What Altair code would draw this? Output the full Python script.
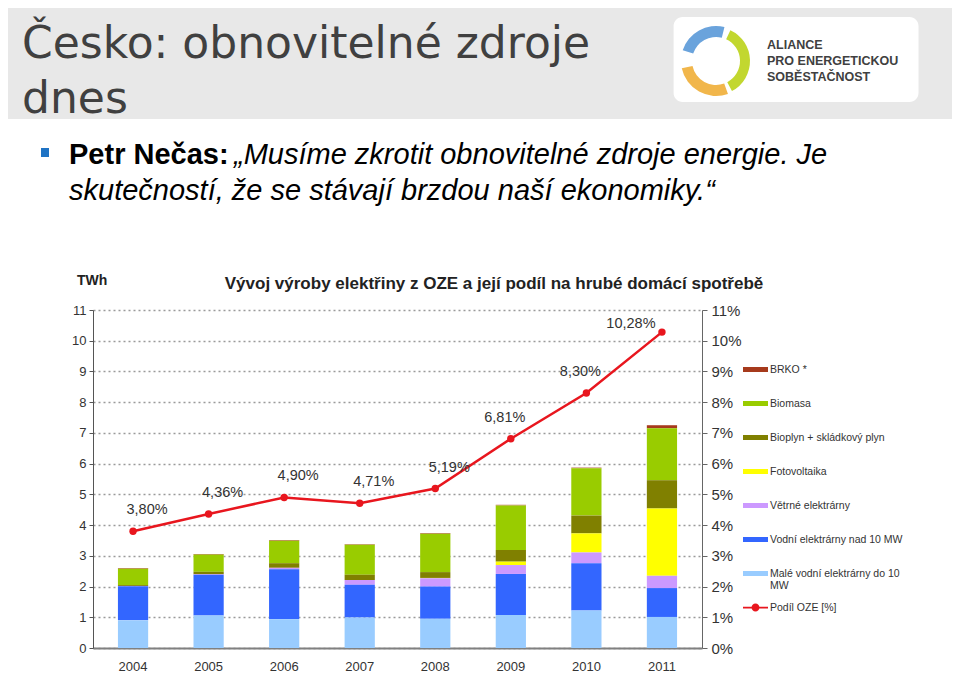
import altair as alt
import pandas as pd

FONT = "Liberation Sans"
RED = "#e8161e"

years = ["2004", "2005", "2006", "2007", "2008", "2009", "2010", "2011"]
sources = ["BRKO *", "Biomasa", "Bioplyn + skládkový plyn", "Fotovoltaika",
           "Větrné elektrárny", "Vodní elektrárny nad 10 MW",
           "Malé vodní elektrárny do 10 MW"]
colors = ["#a63a1c", "#99cc00", "#808000", "#ffff00", "#cc99ff", "#3366ff", "#99ccff"]

brko = [0.02, 0.02, 0.02, 0.02, 0.02, 0.02, 0.02, 0.10]
biomasa = [0.53, 0.56, 0.73, 0.98, 1.25, 1.45, 1.54, 1.69]
bioplyn = [0.03, 0.08, 0.15, 0.17, 0.19, 0.38, 0.58, 0.92]
fotovoltaika = [0.00, 0.00, 0.00, 0.00, 0.01, 0.11, 0.62, 2.19]
vetrne = [0.01, 0.02, 0.05, 0.15, 0.27, 0.29, 0.35, 0.40]
vodni_nad10 = [1.11, 1.32, 1.62, 1.07, 1.05, 1.34, 1.54, 0.94]
male_vodni = [0.90, 1.06, 0.94, 0.99, 0.95, 1.07, 1.22, 1.01]
podil = [3.80, 4.36, 4.90, 4.71, 5.19, 6.81, 8.30, 10.28]
share_name = "Podíl OZE [%]"
y_ticks = list(range(0, 12))

series = [brko, biomasa, bioplyn, fotovoltaika, vetrne, vodni_nad10, male_vodni]
rows = []
for si, (name, vals) in enumerate(zip(sources, series)):
    for yr, v in zip(years, vals):
        rows.append({"rok": yr, "zdroj": name, "twh": v, "poradi": len(sources) - 1 - si})
bars_df = pd.DataFrame(rows)
line_df = pd.DataFrame({"rok": years, "podil": podil, "serie": [share_name] * len(years)})

x_enc = alt.X("rok:N", title=None,
              scale=alt.Scale(paddingInner=0.6, paddingOuter=0.33),
              axis=alt.Axis(labelAngle=0, ticks=False, domainColor="#808080", domainWidth=2,
                            labelPadding=12, labelFontSize=13, labelColor="#333333",
                            labelFont=FONT))

bars = alt.Chart(bars_df).mark_bar().encode(
    x=x_enc,
    y=alt.Y("twh:Q", stack="zero", scale=alt.Scale(domain=[0, 11], nice=False),
            axis=alt.Axis(values=y_ticks, title=None, grid=True, gridDash=[2, 3],
                          gridColor="#9a9a9a", gridWidth=1.5, domainColor="#555555",
                          tickColor="#555555", tickSize=4, labelFontSize=13,
                          labelColor="#333333", labelPadding=3, labelFont=FONT,
                          labelOverlap=False)),
    color=alt.Color("zdroj:N", scale=alt.Scale(domain=sources, range=colors),
                    legend=alt.Legend(title=None, orient="none", legendX=650, legendY=47,
                                      symbolType="M-1,-0.2H1V0.2H-1Z", symbolSize=625,
                                      symbolStrokeWidth=0, labelFont=FONT, labelFontSize=10.5,
                                      labelColor="#333333", rowPadding=16, labelOffset=2,
                                      labelLimit=220, padding=0,
                                      labelExpr="datum.label == 'Malé vodní elektrárny do 10 MW' ? ['Malé vodní elektrárny do 10', 'MW'] : datum.label")),
    order=alt.Order("poradi:Q", sort="ascending"),
)

pct_axis = alt.Axis(orient="right", values=y_ticks, labelExpr="datum.value + '%'",
                    title=None, grid=False, domainColor="#666666", tickColor="#666666",
                    tickSize=5, labelFontSize=15, labelColor="#333333", labelPadding=4,
                    labelFont=FONT, labelOverlap=False)
pct_y = alt.Y("podil:Q", scale=alt.Scale(domain=[0, 11], nice=False), axis=pct_axis)

line = alt.Chart(line_df).mark_line(color=RED, strokeWidth=2.5).encode(x="rok:N", y=pct_y)
pts = alt.Chart(line_df).mark_circle(size=55, opacity=1).encode(
    x="rok:N", y=pct_y,
    fill=alt.Fill("serie:N", scale=alt.Scale(domain=[share_name], range=[RED]),
                  legend=alt.Legend(title=None, orient="none", legendX=650, legendY=285,
                                    symbolType="M-1,-0.07H1V0.07H-1Z M0.32,0A0.32,0.32 0 1,1 -0.32,0A0.32,0.32 0 1,1 0.32,0Z",
                                    symbolSize=625, symbolStrokeWidth=0, labelFont=FONT,
                                    labelFontSize=10.5, labelColor="#333333", labelOffset=2,
                                    padding=0)),
)

lbl_base = alt.Chart(line_df).transform_calculate(
    lbl="replace(format(datum.podil, '.2f'), '.', ',') + '%'")


def lbl_layer(sel, dx, dy):
    return lbl_base.transform_filter(
        alt.FieldOneOfPredicate(field="rok", oneOf=sel)).mark_text(
        dx=dx, dy=dy, fontSize=14.5, font=FONT, color="#333333").encode(
        x="rok:N", y=pct_y, text="lbl:N")


labels = [
    lbl_layer(years[:5], 14, -21),
    lbl_layer(years[5:7], -6, -21),
    lbl_layer(years[7:], -31, -8),
]

pct_layer = alt.layer(line, pts, *labels)

one = pd.DataFrame({"t": [""]})


def txt(s, x, y, size, weight="normal", style="normal", font=FONT, color="#333333",
        align="left"):
    return alt.Chart(pd.DataFrame({"t": [s]})).mark_text(
        align=align, baseline="alphabetic", fontSize=size, fontWeight=weight,
        fontStyle=style, font=font, color=color).encode(
        x=alt.value(x), y=alt.value(y), text="t:N")


def rect(x, x2, y, y2, color, radius=0):
    return alt.Chart(one).mark_rect(color=color, cornerRadius=radius).encode(
        x=alt.value(x), x2=alt.value(x2), y=alt.value(y), y2=alt.value(y2))


def arc(cx, cy, t0, t1, r0, r1, color):
    return alt.Chart(one).mark_arc(theta=t0, theta2=t1, radius=r1, radius2=r0,
                                   color=color).encode(x=alt.value(cx), y=alt.value(cy))


deg = 3.14159265 / 180
decor = [
    rect(-93, 867, -310, -191, "#e8e8e8"),
    rect(580.6, 825.5, -293, -208, "#ffffff", 9),
    arc(623, -249, 288 * deg, 374 * deg, 24, 35, "#6aa3dc"),
    arc(623, -249, 25 * deg, 152 * deg, 24, 34, "#c2d72f"),
    arc(623, -249, 160 * deg, 258 * deg, 24, 35, "#f1b64b"),
    txt("ALIANCE", 674, -261, 12.5, weight="bold", color="#404040"),
    txt("PRO ENERGETICKOU", 674, -245, 12.5, weight="bold", color="#404040"),
    txt("SOBĚSTAČNOST", 674, -229, 12.5, weight="bold", color="#404040"),
    txt("Česko: obnovitelné zdroje", -71, -252, 44, font="DejaVu Sans", color="#404040"),
    txt("dnes", -71, -197, 44, font="DejaVu Sans", color="#404040"),
    rect(-52, -44, -162, -153, "#1f73c4"),
    txt("Petr Nečas:", -24, -146, 29, weight="bold", color="#000000"),
    txt("„Musíme zkrotit obnovitelné zdroje energie. Je", 141, -146, 29, style="italic",
        color="#000000"),
    txt("skutečností, že se stávají brzdou naší ekonomiky.“", -24, -110, 29, style="italic",
        color="#000000"),
    txt("Vývoj výroby elektřiny z OZE a její podíl na hrubé domácí spotřebě", 401, -21, 17,
        weight="bold", color="#222222", align="center"),
    txt("TWh", -16, -25, 14, weight="bold", color="#222222"),
]

chart = alt.layer(bars, pct_layer, *decor).resolve_scale(y="independent").properties(
    width=609, height=338,
    autosize=alt.AutoSizeParams(type="none"),
    padding={"left": 85, "top": 302, "right": 250, "bottom": 28},
    background="white",
).configure_view(stroke=None)

chart.save("out.html", embed_options={"renderer": "svg", "actions": False})
